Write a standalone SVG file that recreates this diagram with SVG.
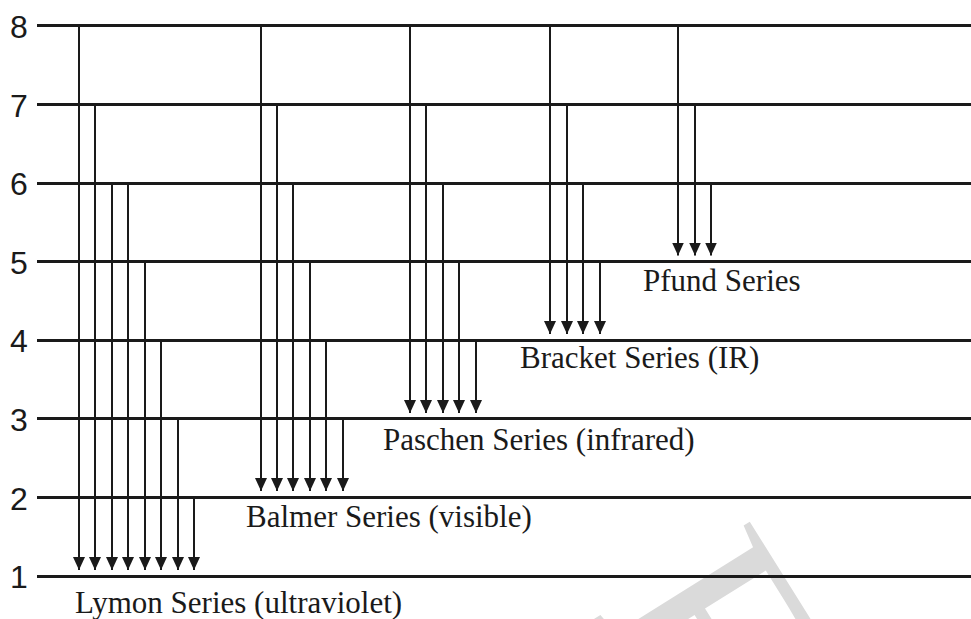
<svg xmlns="http://www.w3.org/2000/svg" width="971" height="619" viewBox="0 0 971 619">
<defs>
<marker id="ah" markerUnits="userSpaceOnUse" markerWidth="13" markerHeight="12" viewBox="0 0 13 12" refX="13" refY="6" orient="auto">
<path d="M0,0 L13,6 L0,12 Z" fill="#1a1a1a"/>
</marker>
<style>
.lvl{stroke:#1a1a1a;stroke-width:3;fill:none}
.tr{stroke:#1a1a1a;stroke-width:2;fill:none}
.num{font-family:"Liberation Sans",Arial,sans-serif;font-size:32px;fill:#1a1a1a}
.lab{font-family:"Liberation Serif","Times New Roman",serif;font-size:31px;fill:#1a1a1a}
</style>
</defs>
<rect width="971" height="619" fill="#ffffff"/>
<text x="590" y="612" transform="rotate(58 590 612)" font-family="Liberation Serif,serif" font-size="280" fill="#dadada">E</text>
<g id="levels">
<g id="n8"><line class="lvl" x1="37" y1="25.5" x2="971" y2="25.5"/><text class="num" x="10" y="38">8</text></g>
<g id="n7"><line class="lvl" x1="37" y1="104.5" x2="971" y2="104.5"/><text class="num" x="10" y="116.5">7</text></g>
<g id="n6"><line class="lvl" x1="37" y1="183.5" x2="971" y2="183.5"/><text class="num" x="10" y="195">6</text></g>
<g id="n5"><line class="lvl" x1="37" y1="261.5" x2="971" y2="261.5"/><text class="num" x="10" y="273.5">5</text></g>
<g id="n4"><line class="lvl" x1="37" y1="340.5" x2="971" y2="340.5"/><text class="num" x="10" y="352">4</text></g>
<g id="n3"><line class="lvl" x1="37" y1="418.5" x2="971" y2="418.5"/><text class="num" x="10" y="431">3</text></g>
<g id="n2"><line class="lvl" x1="37" y1="497.5" x2="971" y2="497.5"/><text class="num" x="10" y="509.5">2</text></g>
<g id="n1"><line class="lvl" x1="37" y1="576.5" x2="971" y2="576.5"/><text class="num" x="10" y="588">1</text></g>
</g>
<g id="connectors">
<line class="tr" marker-end="url(#ah)" x1="79" y1="26" x2="79" y2="570"/>
<line class="tr" marker-end="url(#ah)" x1="95" y1="104" x2="95" y2="570"/>
<line class="tr" marker-end="url(#ah)" x1="112" y1="183" x2="112" y2="570"/>
<line class="tr" marker-end="url(#ah)" x1="128" y1="183" x2="128" y2="570"/>
<line class="tr" marker-end="url(#ah)" x1="145" y1="261" x2="145" y2="570"/>
<line class="tr" marker-end="url(#ah)" x1="161" y1="340" x2="161" y2="570"/>
<line class="tr" marker-end="url(#ah)" x1="178" y1="418" x2="178" y2="570"/>
<line class="tr" marker-end="url(#ah)" x1="194" y1="497" x2="194" y2="570"/>
<line class="tr" marker-end="url(#ah)" x1="261" y1="26" x2="261" y2="491"/>
<line class="tr" marker-end="url(#ah)" x1="277" y1="104" x2="277" y2="491"/>
<line class="tr" marker-end="url(#ah)" x1="293" y1="183" x2="293" y2="491"/>
<line class="tr" marker-end="url(#ah)" x1="310" y1="261" x2="310" y2="491"/>
<line class="tr" marker-end="url(#ah)" x1="326" y1="340" x2="326" y2="491"/>
<line class="tr" marker-end="url(#ah)" x1="343" y1="418" x2="343" y2="491"/>
<line class="tr" marker-end="url(#ah)" x1="410" y1="26" x2="410" y2="413"/>
<line class="tr" marker-end="url(#ah)" x1="426" y1="104" x2="426" y2="413"/>
<line class="tr" marker-end="url(#ah)" x1="443" y1="183" x2="443" y2="413"/>
<line class="tr" marker-end="url(#ah)" x1="459" y1="261" x2="459" y2="413"/>
<line class="tr" marker-end="url(#ah)" x1="476" y1="340" x2="476" y2="413"/>
<line class="tr" marker-end="url(#ah)" x1="550" y1="26" x2="550" y2="334"/>
<line class="tr" marker-end="url(#ah)" x1="567" y1="104" x2="567" y2="334"/>
<line class="tr" marker-end="url(#ah)" x1="583" y1="183" x2="583" y2="334"/>
<line class="tr" marker-end="url(#ah)" x1="600" y1="261" x2="600" y2="334"/>
<line class="tr" marker-end="url(#ah)" x1="678" y1="26" x2="678" y2="255.5"/>
<line class="tr" marker-end="url(#ah)" x1="695" y1="104" x2="695" y2="255.5"/>
<line class="tr" marker-end="url(#ah)" x1="711" y1="183" x2="711" y2="255.5"/>
</g>
<g id="lymon"><text class="lab" x="75" y="613">Lymon Series (ultraviolet)</text></g>
<g id="balmer"><text class="lab" x="246" y="527">Balmer Series (visible)</text></g>
<g id="paschen"><text class="lab" x="383" y="450">Paschen Series (infrared)</text></g>
<g id="bracket"><text class="lab" x="520" y="368">Bracket Series (IR)</text></g>
<g id="pfund"><text class="lab" x="643" y="291">Pfund Series</text></g>
</svg>
